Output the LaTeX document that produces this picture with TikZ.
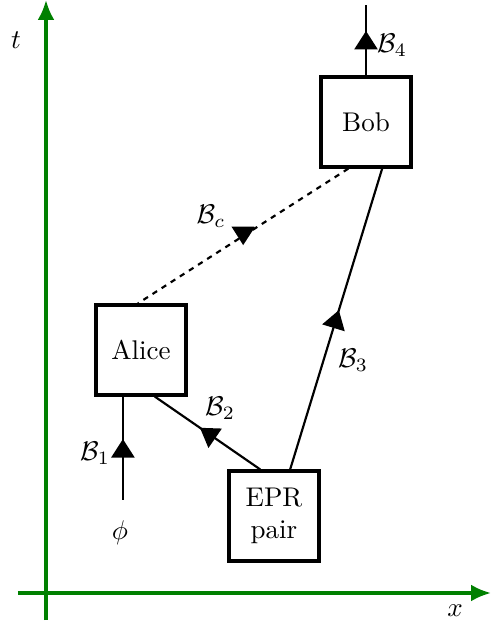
\documentclass[tikz,border=0pt]{standalone}
\usetikzlibrary{arrows.meta,decorations.markings}

\tikzset{
  agent/.style={draw,very thick,minimum width=1.17cm,minimum height=1.17cm,align=center},
  midarrow/.style={postaction={decorate},decoration={markings,
    mark=at position 0.5 with {\pgftransformxshift{1.2mm}\arrow{Triangle[length=2.4mm,width=3mm]}}}},
  downarrow/.style={postaction={decorate},decoration={markings,
    mark=at position 0.5 with {\pgftransformrotate{57}\pgftransformxshift{1.2mm}\arrow{Triangle[length=2.4mm,width=3mm]}}}},
  axis/.style={very thick,green!50!black,-{Latex[length=2.6mm,width=2.2mm]}}
}

\begin{document}
\begin{tikzpicture}

\useasboundingbox (-0.598,-0.429) rectangle (5.785,7.709);

% axes
\coordinate (xs) at (-0.364,0);
\coordinate (xe) at (5.785,0);
\coordinate (ts) at (0,-0.351);
\coordinate (te) at (0,7.709);

\draw[axis]
(xs)--(xe);

\draw[axis]
(ts)--(te);

\node
(tlab)
at (-0.39,7.19)
{$t$};

\node
(xlab)
at (5.317,-0.234)
{$x$};

% boxes
\node[agent]
(Alice)
at (1.235,3.159)
{Alice};

\node[agent]
(Bob)
at (4.16,6.123)
{Bob};

\node[agent]
(EPR)
at (2.964,1.001)
{EPR\\pair};

\node
(phi)
at (0.962,0.78)
{$\phi$};

\coordinate (in) at (1.0,1.209);
\coordinate (out) at (4.16,7.644);

% connectors
\draw[thick,midarrow]
(in)--(in |- Alice.south);

\draw[thick,midarrow]
([xshift=-0.18cm]EPR.north)--([xshift=0.18cm]Alice.south);

\draw[thick,midarrow]
([xshift=0.21cm]EPR.north)--([xshift=0.21cm]Bob.south);

\draw[thick,midarrow]
(Bob.north)--(out);

\draw[thick,dash pattern=on 2pt off 2pt,downarrow]
([xshift=-0.23cm]Bob.south)--([xshift=-0.04cm]Alice.north);

% labels
\node
(b1)
at (0.637,1.82)
{$\mathcal{B}_1$};

\node
(b2)
at (2.262,2.405)
{$\mathcal{B}_2$};

\node
(b3)
at (3.991,3.029)
{$\mathcal{B}_3$};

\node
(b4)
at (4.498,7.124)
{$\mathcal{B}_4$};

\node
(bc)
at (2.145,4.901)
{$\mathcal{B}_c$};

\end{tikzpicture}
\end{document}
